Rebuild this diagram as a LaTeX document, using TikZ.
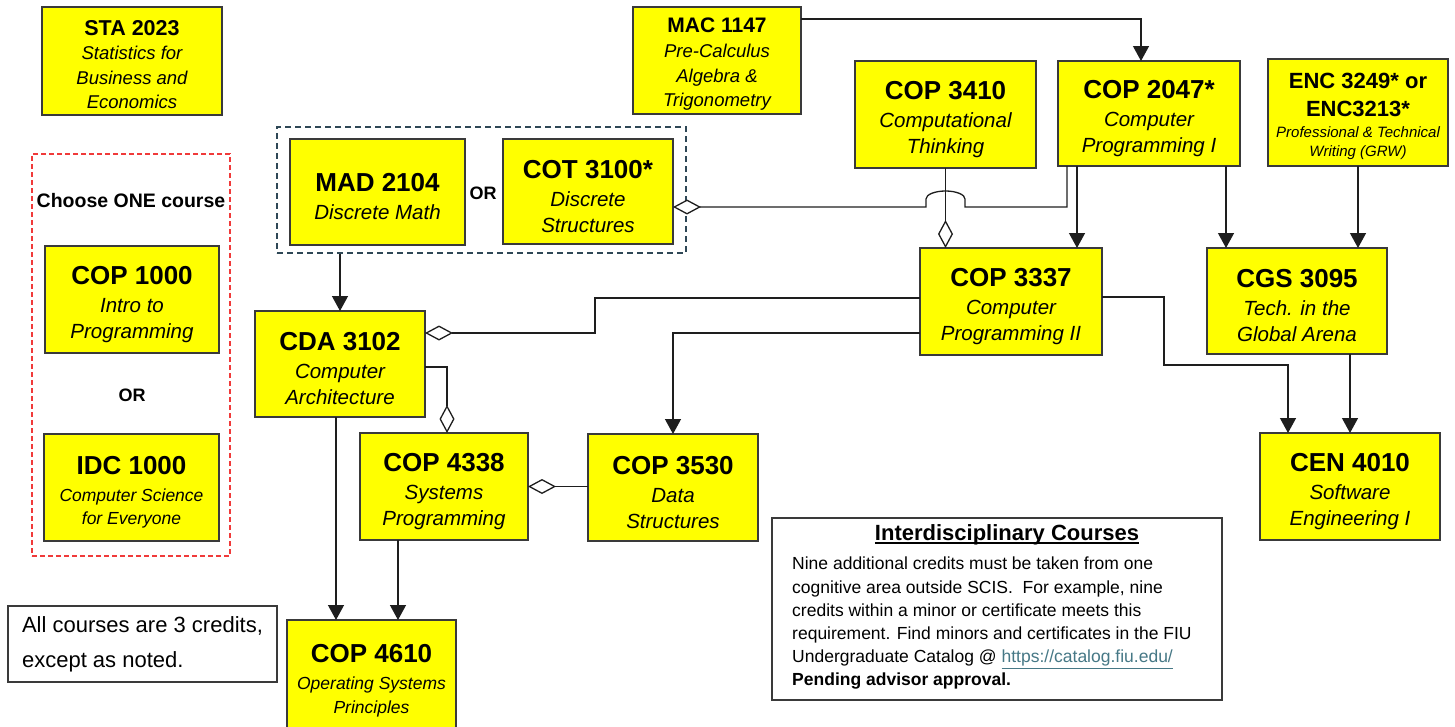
\documentclass[tikz,border=0pt]{standalone}
\usepackage{fontspec}
\setmainfont{Liberation Sans}
\usetikzlibrary{arrows.meta,calc}
\definecolor{cyel}{HTML}{FFFF00}
\definecolor{cbord}{HTML}{3A3A3A}
\definecolor{cline}{HTML}{1E1E1E}
\definecolor{grpblue}{HTML}{2E4756}
\definecolor{grpred}{HTML}{F03A3A}
\definecolor{linkc}{HTML}{467886}
\newcommand{\code}[2][26]{{\fontsize{#1}{#1}\selectfont\bfseries\upshape\rule{0pt}{1.05\dimexpr#1pt\relax}#2}}
\newcommand{\codeb}[2][26]{{\fontsize{#1}{#1}\selectfont\bfseries\upshape #2}}
\begin{document}
\begin{tikzpicture}[x=1pt,y=1pt,
  course/.style={draw=cbord, line width=1.4pt, fill=cyel, inner sep=0pt, outer sep=0pt,
    align=center, font=\fontsize{20.5}{26}\selectfont\itshape},
  small/.style={font=\fontsize{18.5}{24.5}\selectfont\itshape},
  arr/.style={draw=cline, line width=1.3pt, -{Triangle[length=15pt,width=16pt]}},
  agg/.style={draw=cline, line width=1.3pt, {Diamond[fill=white,length=28pt,width=15pt]}-},
  grpb/.style={draw=grpblue, line width=1.2pt, dash pattern=on 6pt off 4pt, inner sep=0pt},
  grpr/.style={draw=grpred, line width=1.2pt, dash pattern=on 5pt off 3pt, inner sep=0pt},
  orlabel/.style={inner sep=0pt, font=\fontsize{18}{20}\selectfont\bfseries},
  plainbox/.style={draw=cbord, line width=1.3pt, fill=white, inner sep=0pt}
]
\useasboundingbox (0,0) rectangle (1455,-726);
\clip (0,0) rectangle (1455,-726);

% groups
\node[grpb, minimum width=409pt, minimum height=126pt] (discgrp) at (481.5,-190) {};
\node[grpr, minimum width=198pt, minimum height=402pt] (choosegrp) at (131,-355) {};

% courses
\node[course, small, minimum width=180pt, minimum height=108pt] (sta) at (132,-61)
  {\code[21.5]{STA 2023}\\Statistics for\\Business and\\Economics};
\node[course, small, minimum width=168pt, minimum height=107pt] (mac) at (717,-60.5)
  {\code[21]{MAC 1147}\\[1pt]Pre-Calculus\\Algebra \&\\Trigonometry};
\node[course, minimum width=181pt, minimum height=107pt] (cop3410) at (945.5,-114.5)
  {\code{COP 3410}\\[2pt]Computational\\Thinking};
\node[course, minimum width=182pt, minimum height=105pt] (cop2047) at (1149,-113.5)
  {\code{COP 2047*}\\[2pt]Computer\\Programming I};
\node[course, font=\fontsize{15}{19.5}\selectfont\itshape, minimum width=180pt, minimum height=107pt] (enc) at (1358,-112.5)
  {\code[22]{ENC 3249* or}\\[8.5pt]\codeb[22]{ENC3213*}\\[1.5pt]Professional \& Technical\\Writing (GRW)};
\node[course, minimum width=175pt, minimum height=106pt] (mad) at (377.5,-192)
  {\code{MAD 2104}\\[2pt]Discrete Math};
\node[course, minimum width=170pt, minimum height=105pt] (cot) at (588,-191.5)
  {\code{COT 3100*}\\[2pt]Discrete\\Structures};
\node[course, minimum width=174pt, minimum height=107pt] (cop1000) at (132,-299.5)
  {\code{COP 1000}\\[2pt]Intro to\\Programming};
\node[course, font=\fontsize{17.5}{23}\selectfont\itshape, minimum width=175pt, minimum height=107pt] (idc) at (131.5,-487.5)
  {\code{IDC 1000}\\[4pt]Computer Science\\for Everyone};
\node[course, minimum width=182pt, minimum height=107pt] (cop3337) at (1011,-301.5)
  {\code{COP 3337}\\[2pt]Computer\\Programming II};
\node[course, minimum width=180pt, minimum height=106pt] (cgs) at (1297,-301)
  {\code{CGS 3095}\\[2pt]Tech. in the\\Global Arena};
\node[course, minimum width=170pt, minimum height=106pt] (cda) at (340,-364)
  {\code{CDA 3102}\\[2pt]Computer\\Architecture};
\node[course, minimum width=168pt, minimum height=107pt] (cop4338) at (444,-486.5)
  {\code{COP 4338}\\[2pt]Systems\\Programming};
\node[course, minimum width=170pt, minimum height=107pt] (cop3530) at (673,-487.5)
  {\code{COP 3530}\\[2pt]Data\\Structures};
\node[course, minimum width=180pt, minimum height=107pt] (cen) at (1350,-486.5)
  {\code{CEN 4010}\\[2pt]Software\\Engineering I};
\node[course, font=\fontsize{17.5}{24}\selectfont\itshape, minimum width=169pt, minimum height=112pt] (cop4610) at (371.5,-676)
  {\code{COP 4610}\\[3pt]Operating Systems\\Principles};

% labels
\node[orlabel] (or1) at (483,-193) {OR};
\node[orlabel] (or2) at (132,-395) {OR};
\node[inner sep=0pt, font=\fontsize{19.5}{22}\selectfont\bfseries] (choose) at (131,-201) {Choose ONE course};

% note box
\node[plainbox, minimum width=269pt, minimum height=76pt, align=left,
  font=\fontsize{22}{35}\selectfont] (note) at (142.5,-644)
  {All courses are 3 credits,\\except as noted.};

% interdisciplinary box
\node[plainbox, minimum width=450pt, minimum height=182pt] (interbox) at (997,-609) {};
\node[inner sep=0pt, font=\fontsize{22}{26}\selectfont\bfseries] (intertitle) at (1007,-535) {Interdisciplinary Courses};
\draw[line width=1.4pt] ([yshift=-2.5pt]intertitle.base west) -- ([yshift=-2.5pt]intertitle.base east);
\node[anchor=north west, inner sep=0pt, align=left, font=\fontsize{17.5}{23.2}\selectfont] (interbody) at (792,-557)
  {Nine additional credits must be taken from one\\
   cognitive area outside SCIS.\ \ For example, nine\\
   credits within a minor or certificate meets this\\
   requirement. Find minors and certificates in the FIU\\
   Undergraduate Catalog @ \textcolor{linkc}{\underline{https://catalog.fiu.edu/}}\\
   \textbf{Pending advisor approval.}};

% helper coordinates
\coordinate (dy) at ([yshift=-15.5pt]cot.east);
\coordinate (jl) at ($(cop3410.south |- dy)+(-19.5,0)$);
\coordinate (c2047a) at ([xshift=9pt]cop2047.south west);
\coordinate (a2047) at ([xshift=19pt]cop2047.south west);
\coordinate (b2047) at ([xshift=-14pt]cop2047.south east);
\coordinate (cenA) at ([xshift=28pt]cen.north west);
\coordinate (d4338) at ([xshift=3pt]cop4338.north);
\coordinate (e1) at ([xshift=-4pt]cda.south);
\coordinate (e2) at ([xshift=-46pt]cop4338.south);

% connectors
\draw[arr] ([yshift=-12pt]mac.north east) -| ([xshift=-8pt]cop2047.north);
\draw[agg] (cop3337.north -| cop3410.south) -- (cop3410.south);
\draw[agg] (dy) -- (jl) -- ++(0,8)
  arc[start angle=180, end angle=0, x radius=19.5, y radius=8] -- ++(0,-8)
  -- (c2047a |- jl) -- (c2047a);
\draw[arr] (a2047) -- (a2047 |- cop3337.north);
\draw[arr] (b2047) -- (b2047 |- cgs.north);
\draw[arr] (enc.south) -- (enc.south |- cgs.north);
\draw[arr] (cda.north |- discgrp.south) -- (cda.north);
\draw[agg] ([yshift=31pt]cda.east) -- ++(170,0) |- ([yshift=3.5pt]cop3337.west);
\draw[arr] ([yshift=-31.5pt]cop3337.west) -| (cop3530.north);
\draw[arr] ([yshift=4.5pt]cop3337.east) -- ++(62,0) -- ++(0,-68) -| (cenA);
\draw[arr] (cen.north |- cgs.south) -- (cen.north);
\draw[agg] (d4338) |- ([yshift=-3pt]cda.east);
\draw[agg] (cop4338.east) -- (cop3530.west |- cop4338.east);
\draw[arr] (e1) -- (e1 |- cop4610.north);
\draw[arr] (e2) -- (e2 |- cop4610.north);
\end{tikzpicture}
\end{document}
